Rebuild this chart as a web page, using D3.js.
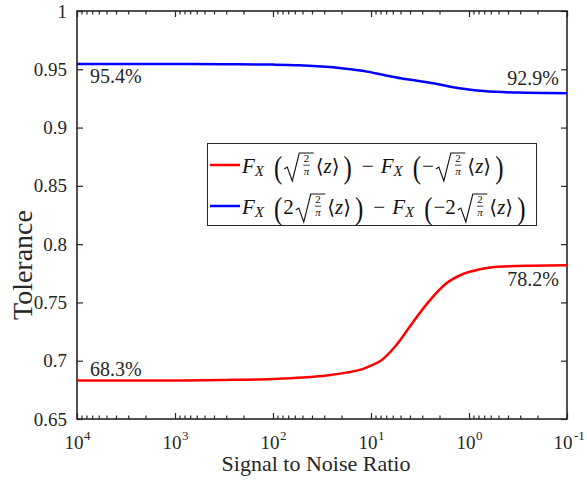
<!DOCTYPE html>
<html>
<head>
<meta charset="utf-8">
<style>
  body { margin: 0; background: #fff; }
  svg { display: block; }
  .line { fill: none; stroke-width: 2.5px; }
</style>
<script src="https://d3js.org/d3.v7.min.js"></script>
</head>
<body>
<div id="chart"></div>
<script>

// values
const redSnr  = [10000, 1000, 316, 100, 50, 26, 18, 12, 10, 8.1, 5.5, 3.7, 2.5, 1.7, 1.15, 0.78, 0.52, 0.24, 0.1];
const redTol  = [0.6830, 0.6831, 0.6835, 0.6843, 0.6855, 0.6877, 0.6898, 0.6930, 0.6958, 0.6995, 0.7135, 0.7335, 0.7520, 0.7664, 0.7744, 0.7784, 0.7806, 0.7815, 0.7818];
const blueSnr = [10000, 1000, 316, 100, 54, 24.5, 16.2, 11, 7.4, 5, 3.4, 2.3, 1.55, 1.05, 0.71, 0.32, 0.1];
const blueTol = [0.9545, 0.9545, 0.9543, 0.9540, 0.9535, 0.9517, 0.9500, 0.9480, 0.9451, 0.9423, 0.9402, 0.9380, 0.9351, 0.9328, 0.9313, 0.9300, 0.9295];

const yTicks = [0.65, 0.7, 0.75, 0.8, 0.85, 0.9, 0.95, 1];
const yTickLabels = ["0.65", "0.7", "0.75", "0.8", "0.85", "0.9", "0.95", "1"];
const xTicks = [1e4, 1e3, 1e2, 1e1, 1e0, 1e-1];
const xTickExp = ["4", "3", "2", "1", "0", "-1"];

const notes = [
  {text: "95.4%", snr: 10000, tol: 0.9545, side: "left",  dy: 19},
  {text: "92.9%", snr: 0.1,   tol: 0.9295, side: "right", dy: -8},
  {text: "68.3%", snr: 10000, tol: 0.6830, side: "left",  dy: -5},
  {text: "78.2%", snr: 0.1,   tol: 0.7818, side: "right", dy: 21}
];

const W = 587, H = 485;
const m = {left: 77, right: 20, top: 11, bottom: 66};
const axCol = "#262626";
const serif = "'Liberation Serif', 'Times New Roman', 'DejaVu Serif', serif";

const svg = d3.select("#chart").append("svg")
  .attr("width", W).attr("height", H)
  .attr("font-family", serif)
  .style("font-family", serif);

const x = d3.scaleLog().domain([1e4, 1e-1]).range([m.left, W - m.right]);
const y = d3.scaleLinear().domain([0.65, 1]).range([H - m.bottom, m.top]);

// minor ticks for the log axis
const minor = [];
for (let e = -1; e < 4; e++) {
  for (let k = 2; k <= 9; k++) minor.push(k * Math.pow(10, e));
}

const x0 = x.range()[0], x1 = x.range()[1];
const y0 = y.range()[0], y1 = y.range()[1];

// axes, MATLAB style with inward ticks on all four sides
const axB = svg.append("g").attr("transform", `translate(0,${y0})`)
  .call(d3.axisBottom(x).tickValues(xTicks).tickSize(-6).tickFormat(""));
const axBm = svg.append("g").attr("transform", `translate(0,${y0})`)
  .call(d3.axisBottom(x).tickValues(minor).tickSize(-3.5).tickFormat(""));
const axT = svg.append("g").attr("transform", `translate(0,${y1})`)
  .call(d3.axisTop(x).tickValues(xTicks).tickSize(-6).tickFormat(""));
const axTm = svg.append("g").attr("transform", `translate(0,${y1})`)
  .call(d3.axisTop(x).tickValues(minor).tickSize(-3.5).tickFormat(""));
const axL = svg.append("g").attr("transform", `translate(${x0},0)`)
  .call(d3.axisLeft(y).tickValues(yTicks).tickSize(-6).tickFormat(""));
const axR = svg.append("g").attr("transform", `translate(${x1},0)`)
  .call(d3.axisRight(y).tickValues(yTicks).tickSize(-6).tickFormat(""));

[axB, axBm, axT, axTm, axL, axR].forEach(a => {
  a.select(".domain").remove();
  a.selectAll("line").attr("stroke", axCol).attr("stroke-width", 1.2);
});

svg.append("rect")
  .attr("x", x0).attr("y", y1).attr("width", x1 - x0).attr("height", y0 - y1)
  .attr("fill", "none").attr("stroke", axCol).attr("stroke-width", 1.6);

function txt(sel) {
  return sel.attr("font-family", serif).attr("fill", axCol);
}

// y tick labels
svg.append("g").selectAll("text").data(yTicks).join("text")
  .call(txt)
  .attr("x", x0 - 10).attr("y", d => y(d) + 6.5)
  .attr("text-anchor", "end")
  .attr("font-size", 19)
  .text((d, i) => yTickLabels[i]);

// x tick labels 10^k
const xl = svg.append("g").selectAll("g").data(xTicks).join("g")
  .attr("transform", d => `translate(${x(d)},${y0 + 30})`);
xl.append("text")
  .call(txt)
  .attr("x", (d, i) => xTickExp[i].length > 1 ? -4 : -3)
  .attr("text-anchor", "middle")
  .attr("font-size", 19)
  .text("10");
xl.append("text")
  .call(txt)
  .attr("x", 7)
  .attr("y", -9)
  .attr("font-size", 13)
  .text((d, i) => xTickExp[i]);

// axis titles
svg.append("text")
  .call(txt)
  .attr("x", (x0 + x1) / 2 - 6).attr("y", H - 14)
  .attr("text-anchor", "middle")
  .attr("font-size", 22)
  .text("Signal to Noise Ratio");

svg.append("text")
  .call(txt)
  .attr("transform", `translate(32,${(y0 + y1) / 2 + 50}) rotate(-90)`)
  .attr("text-anchor", "middle")
  .attr("font-size", 28)
  .text("Tolerance");

// curves
const line = d3.line().curve(d3.curveMonotoneX).x(d => x(d[0])).y(d => y(d[1]));
const redPts = redSnr.map((s, i) => [s, redTol[i]]);
const bluePts = blueSnr.map((s, i) => [s, blueTol[i]]);

svg.append("path").attr("class", "line").attr("stroke", "#ff0000").attr("d", line(redPts));
svg.append("path").attr("class", "line").attr("stroke", "#0000ff").attr("d", line(bluePts));

// percentage notes
svg.append("g").selectAll("text").data(notes).join("text")
  .call(txt)
  .attr("x", d => d.side === "left" ? x(d.snr) + 13 : x(d.snr) - 8)
  .attr("y", d => y(d.tol) + d.dy)
  .attr("text-anchor", d => d.side === "left" ? "start" : "end")
  .attr("font-size", 20)
  .text(d => d.text);

// legend with a small math layout
const leg = svg.append("g");
leg.append("rect")
  .attr("x", 207.5).attr("y", 143.5).attr("width", 329).attr("height", 82)
  .attr("fill", "#fff").attr("stroke", axCol).attr("stroke-width", 1);

const ink = "#111";

function drawMath(g, toks, xs, base) {
  let cx = xs;
  toks.forEach(t => {
    if (t.k === "g") { cx += t.w; return; }
    if (t.k === "t") {
      const el = g.append("text").attr("x", cx).attr("y", base + (t.dy || 0))
        .attr("font-family", serif)
        .attr("font-size", t.s || 21)
        .attr("font-style", t.i ? "italic" : "normal")
        .attr("fill", ink)
        .text(t.v);
      cx += el.node().getComputedTextLength() + (t.a || 0);
      return;
    }
    if (t.k === "p") {
      const el = g.append("text").attr("x", 0).attr("y", 0)
        .attr("transform", `translate(${cx},${base + 5}) scale(0.8,1)`)
        .attr("font-family", serif)
        .attr("font-size", 31)
        .attr("fill", ink)
        .text(t.v);
      cx += el.node().getComputedTextLength() * 0.8 + 1;
      return;
    }
    if (t.k === "sqrt") {
      const rx = cx + 1;
      const fx = rx + 15;
      const num = g.append("text").attr("y", base - 11).attr("font-family", serif)
        .attr("font-size", 11).attr("fill", ink).text("2");
      const den = g.append("text").attr("y", base + 1.5).attr("font-family", serif)
        .attr("font-size", 11).attr("font-style", "italic").attr("fill", ink).text("π");
      const wn = num.node().getComputedTextLength(), wd = den.node().getComputedTextLength();
      const fw = Math.max(wn, wd) + 9;
      num.attr("x", fx + (fw - wn) / 2);
      den.attr("x", fx + (fw - wd) / 2);
      g.append("line").attr("x1", fx + 4).attr("x2", fx + fw - 4)
        .attr("y1", base - 7.8).attr("y2", base - 7.8)
        .attr("stroke", ink).attr("stroke-width", 0.8);
      g.append("path")
        .attr("d", `M${rx},${base - 4} L${rx + 3},${base - 6} L${rx + 8},${base + 8} L${rx + 15},${base - 20} L${fx + fw},${base - 20}`)
        .attr("fill", "none").attr("stroke", ink).attr("stroke-width", 1.1)
        .attr("stroke-linejoin", "miter");
      cx = fx + fw + 2;
    }
  });
  return cx;
}

const angle = [
  {k: "t", v: "⟨", s: 20},
  {k: "t", v: "z", i: true, s: 21},
  {k: "t", v: "⟩", s: 20, a: 4}
];
const FX = [{k: "t", v: "F", i: true}, {k: "t", v: "X", i: true, s: 15, dy: 3}, {k: "g", w: 10}];
const MINUS = [{k: "g", w: 9}, {k: "t", v: "−"}, {k: "g", w: 7}];

const row1 = [].concat(FX,
  [{k: "p", v: "("}, {k: "sqrt"}], angle, [{k: "p", v: ")"}],
  MINUS,
  FX, [{k: "p", v: "("}, {k: "t", v: "−", a: 1}, {k: "sqrt"}], angle, [{k: "p", v: ")"}]);
const row2 = [].concat(FX,
  [{k: "p", v: "("}, {k: "t", v: "2", a: 1}, {k: "sqrt"}], angle, [{k: "p", v: ")"}],
  MINUS,
  FX, [{k: "p", v: "("}, {k: "t", v: "−2", a: 1}, {k: "sqrt"}], angle, [{k: "p", v: ")"}]);

const legendRows = [
  {color: "#ff0000", toks: row1, base: 173},
  {color: "#0000ff", toks: row2, base: 214}
];
legendRows.forEach(r => {
  leg.append("line").attr("x1", 210).attr("x2", 240)
    .attr("y1", r.base - 8).attr("y2", r.base - 8)
    .attr("stroke", r.color).attr("stroke-width", 2.5);
  drawMath(leg, r.toks, 242, r.base);
});

</script>
</body>
</html>
